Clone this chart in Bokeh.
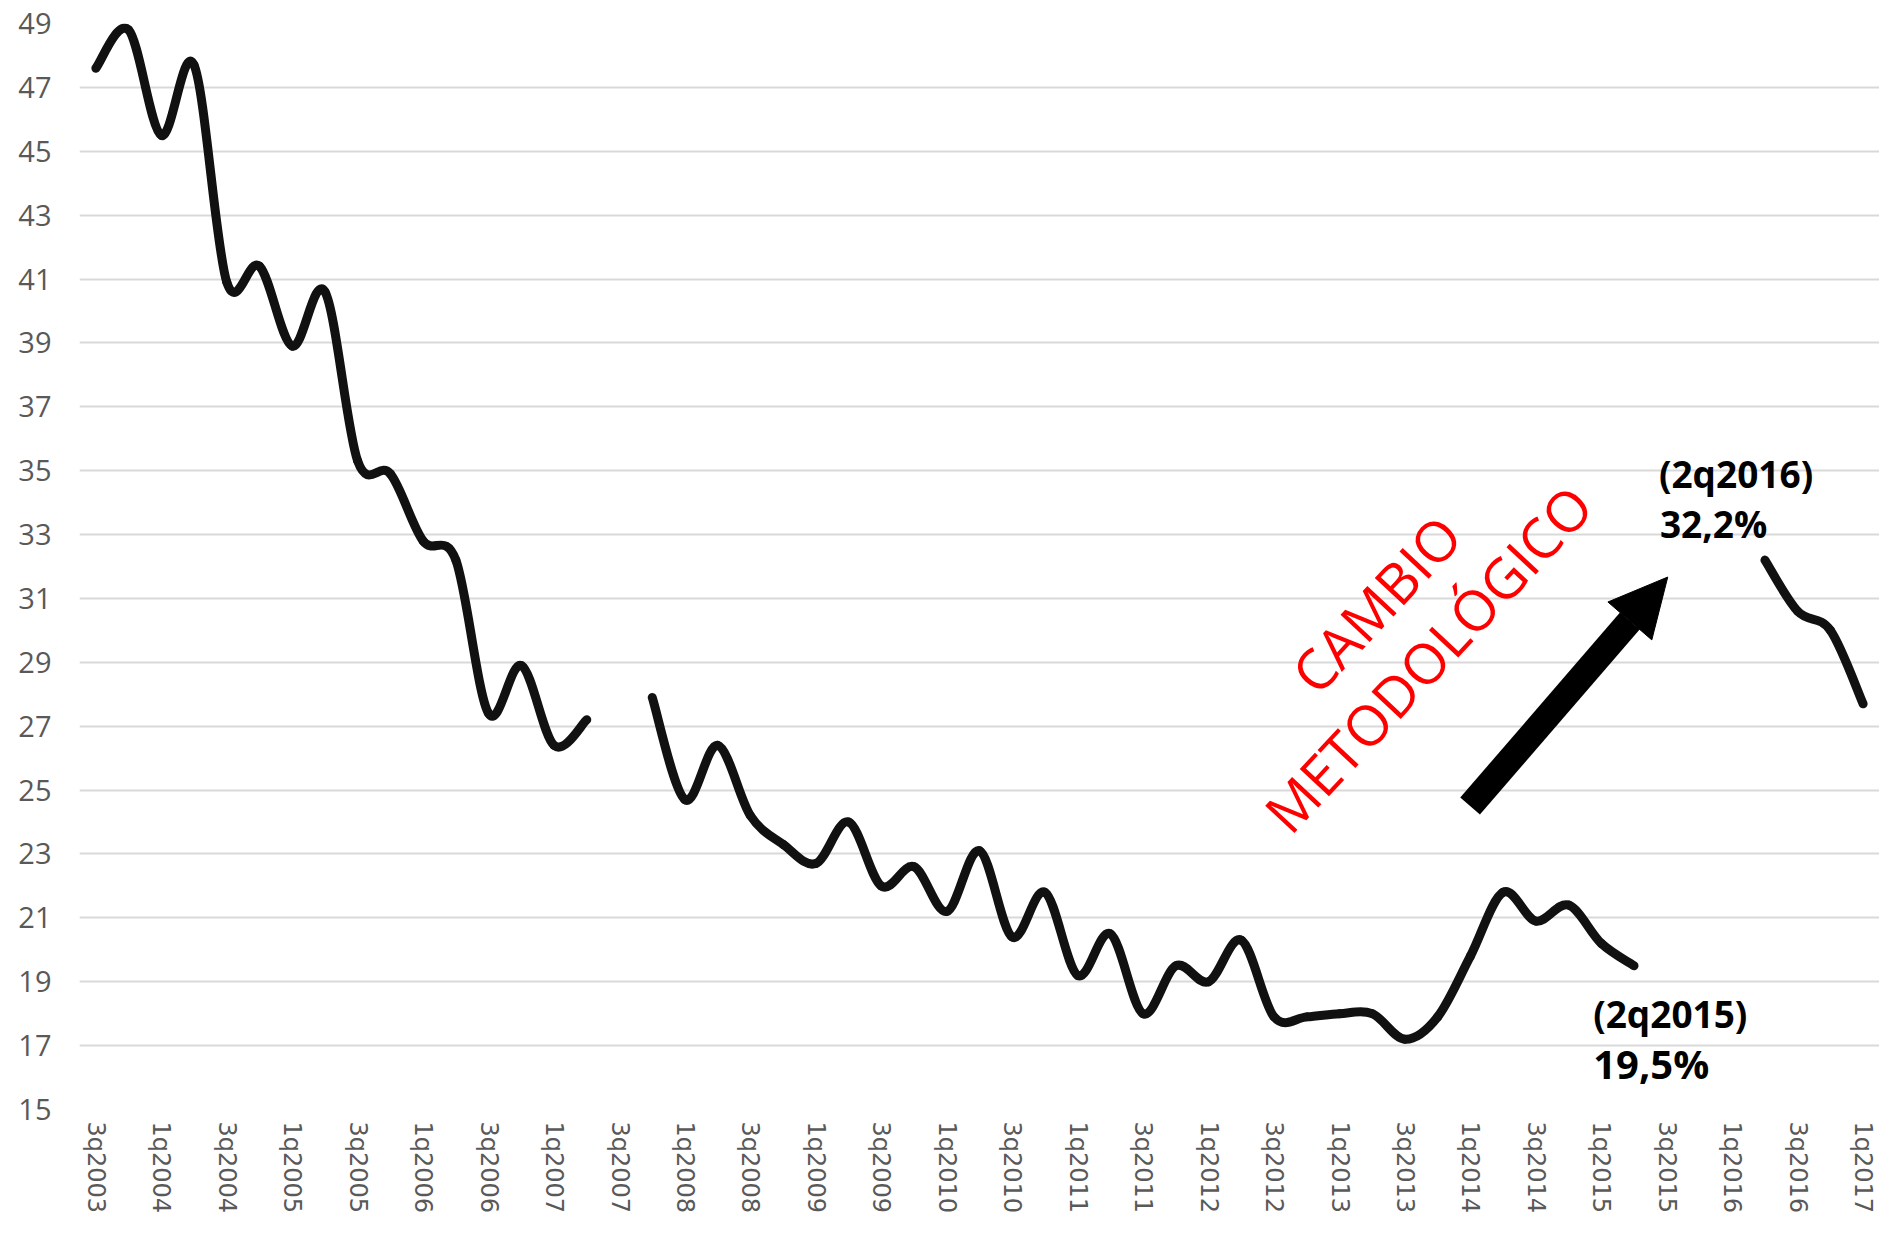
import math
from bokeh.plotting import figure
from bokeh.models import ColumnDataSource, FixedTicker, Label, Arrow, NormalHead
from bokeh.embed import file_html
from bokeh.resources import INLINE

# ---------------- data ----------------
quarters = [
    "3q2003", "4q2003", "1q2004", "2q2004", "3q2004", "4q2004",
    "1q2005", "2q2005", "3q2005", "4q2005", "1q2006", "2q2006",
    "3q2006", "4q2006", "1q2007", "2q2007", "3q2007", "4q2007",
    "1q2008", "2q2008", "3q2008", "4q2008", "1q2009", "2q2009",
    "3q2009", "4q2009", "1q2010", "2q2010", "3q2010", "4q2010",
    "1q2011", "2q2011", "3q2011", "4q2011", "1q2012", "2q2012",
    "3q2012", "4q2012", "1q2013", "2q2013", "3q2013", "4q2013",
    "1q2014", "2q2014", "3q2014", "4q2014", "1q2015", "2q2015",
    "3q2015", "4q2015", "1q2016", "2q2016", "3q2016", "4q2016",
    "1q2017",
]
poverty = [
    47.6, 48.8, 45.5, 47.7, 40.9, 41.4,
    38.9, 40.6, 35.3, 34.9, 32.8, 32.2,
    27.4, 28.9, 26.4, 27.2, None, 27.9,
    24.7, 26.4, 24.2, 23.3, 22.7, 24.0,
    22.0, 22.6, 21.2, 23.1, 20.4, 21.8,
    19.2, 20.5, 18.0, 19.5, 19.0, 20.3,
    17.9, 17.9, 18.0, 18.0, 17.2, 17.9,
    19.8, 21.8, 20.9, 21.4, 20.2, 19.5,
    None, None, None, 32.2, 30.6, 30.0,
    27.7,
]
y_ticks = list(range(15, 50, 2))
x_tick_idx = list(range(0, len(quarters), 2))

# ---------------- smoothed segments (Excel-like smoothing) ----------------
runs, cur = [], []
for i, v in enumerate(poverty):
    if v is None:
        if cur:
            runs.append(cur)
        cur = []
    else:
        cur.append((i, v))
if cur:
    runs.append(cur)

seg = dict(x0=[], y0=[], x1=[], y1=[], cx0=[], cy0=[], cx1=[], cy1=[])
for run in runs:
    n = len(run)
    for k in range(n - 1):
        p0 = run[k - 1] if k > 0 else run[k]
        p1 = run[k]
        p2 = run[k + 1]
        p3 = run[k + 2] if k + 2 < n else run[k + 1]
        seg["x0"].append(p1[0]); seg["y0"].append(p1[1])
        seg["x1"].append(p2[0]); seg["y1"].append(p2[1])
        seg["cx0"].append(p1[0] + (p2[0] - p0[0]) / 6.0)
        seg["cy0"].append(p1[1] + (p2[1] - p0[1]) / 6.0)
        seg["cx1"].append(p2[0] - (p3[0] - p1[0]) / 6.0)
        seg["cy1"].append(p2[1] - (p3[1] - p1[1]) / 6.0)
src = ColumnDataSource(seg)

# ---------------- figure ----------------
p = figure(
    width=1879, height=1219,
    x_range=(-0.5, len(quarters) - 0.5), y_range=(15, 49),
    output_backend="svg", toolbar_location=None,
    min_border_left=79, min_border_right=0, min_border_top=23, min_border_bottom=110,
)
p.outline_line_color = None
p.background_fill_color = "white"
p.border_fill_color = "white"

p.xgrid.grid_line_color = None
p.ygrid.grid_line_color = "#d9d9d9"
p.ygrid.grid_line_width = 2
p.yaxis.ticker = FixedTicker(ticks=y_ticks)
p.ygrid.ticker = FixedTicker(ticks=y_ticks)

p.yaxis.axis_line_color = None
p.yaxis.major_tick_line_color = None
p.yaxis.minor_tick_line_color = None
p.yaxis.major_label_standoff = 22
p.yaxis.major_label_text_font = "Open Sans"
p.yaxis.major_label_text_font_size = "29px"
p.yaxis.major_label_text_color = "#595959"

p.xaxis.ticker = FixedTicker(ticks=x_tick_idx)
p.xaxis.major_label_overrides = {i: quarters[i] for i in x_tick_idx}
p.xaxis.major_label_orientation = "vertical"
p.xaxis.axis_line_color = None
p.xaxis.major_tick_line_color = None
p.xaxis.minor_tick_line_color = None
p.xaxis.major_tick_out = 0
p.xaxis.major_label_standoff = 12
p.xaxis.major_label_text_font = "DejaVu Sans"
p.xaxis.major_label_text_font_size = "24px"
p.xaxis.major_label_text_color = "#595959"

p.bezier(x0="x0", y0="y0", x1="x1", y1="y1", cx0="cx0", cy0="cy0",
         cx1="cx1", cy1="cy1", source=src,
         line_color="#111111", line_width=9, line_cap="round")

# ---------------- annotations ----------------
def add_label(x, y, text, size, bold=True, color="black", angle=0.0,
              align="left", baseline="alphabetic"):
    p.add_layout(Label(x=x, y=y, text=text, text_font="Open Sans",
                       text_font_size=size,
                       text_font_style="bold" if bold else "normal",
                       text_color=color, angle=angle, angle_units="deg",
                       text_align=align, text_baseline=baseline))

add_label(47.76, 34.9, "(2q2016)", "37px")
add_label(47.79, 33.35, "32,2%", "37px")
add_label(45.75, 18.0, "(2q2015)", "37px")
add_label(45.75, 16.45, "19,5%", "40px")

add_label(39.1, 30.84, "CAMBIO", "56px", bold=False, color="#ff0000",
          angle=47, align="center", baseline="middle")
add_label(40.69, 29.13, "METODOLÓGICO", "56px", bold=False, color="#ff0000",
          angle=47, align="center", baseline="middle")

p.add_layout(Arrow(end=NormalHead(size=58, fill_color="black", line_color="black"),
                   x_start=41.99, y_start=24.5, x_end=48.03, y_end=31.67,
                   line_color="black", line_width=26, line_cap="butt"))

open("out.html", "w").write(file_html(p, INLINE))
